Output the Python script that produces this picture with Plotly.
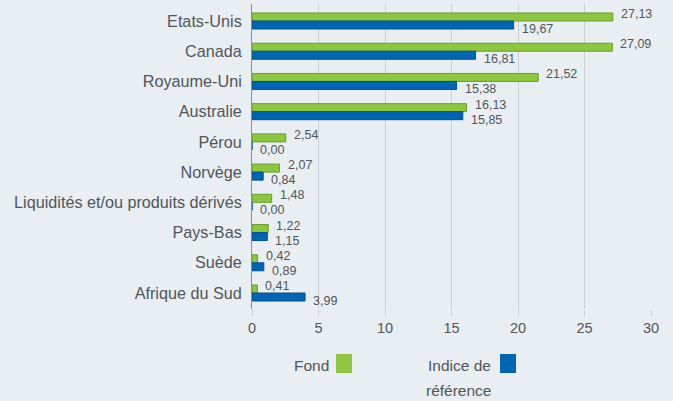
import plotly.graph_objects as go

categories = ["Etats-Unis", "Canada", "Royaume-Uni", "Australie", "Pérou", "Norvège",
              "Liquidités et/ou produits dérivés", "Pays-Bas", "Suède", "Afrique du Sud"]
fond = [27.13, 27.09, 21.52, 16.13, 2.54, 2.07, 1.48, 1.22, 0.42, 0.41]
indice = [19.67, 16.81, 15.38, 15.85, 0.00, 0.84, 0.00, 1.15, 0.89, 3.99]
x_ticks = [0, 5, 10, 15, 20, 25, 30]

GREEN = "#8dc63f"
GREEN_EDGE = "#6b9e2c"
BLUE = "#0066b3"
BLUE_EDGE = "#004f8f"
BG = "#e9eef2"
TXT = "#50565c"
FONT = "Liberation Sans, Arial, sans-serif"

def fmt(v):
    return f"{v:.2f}".replace(".", ",")

fig = go.Figure()
fig.add_trace(go.Bar(y=categories, x=fond, orientation="h", name="Fond",
                     marker=dict(color=GREEN, line=dict(color=GREEN_EDGE, width=1)),
                     hoverinfo="x+y"))
fig.add_trace(go.Bar(y=categories, x=indice, orientation="h", name="Indice de référence",
                     marker=dict(color=BLUE, line=dict(color=BLUE_EDGE, width=1)),
                     hoverinfo="x+y"))

annotations = []
for c, v in zip(categories, fond):
    annotations.append(dict(x=v, y=c, xref="x", yref="y", text=fmt(v), showarrow=False,
                            xanchor="left", yanchor="middle", xshift=6, yshift=7,
                            font=dict(size=12.5, color=TXT, family=FONT)))
for c, v in zip(categories, indice):
    annotations.append(dict(x=v, y=c, xref="x", yref="y", text=fmt(v), showarrow=False,
                            xanchor="left", yanchor="middle", xshift=6, yshift=-8,
                            font=dict(size=12.5, color=TXT, family=FONT)))

W, H = 673, 401
ML, MR, MT, MB = 252, 22, 4, 92
pw = W - ML - MR
ph = H - MT - MB

def px_x(p):
    return (p - ML) / pw

def px_y(p):
    return (H - MB - p) / ph

LEG = dict(size=15.5, color=TXT, family=FONT)
annotations.append(dict(x=px_x(331), y=px_y(365), xref="paper", yref="paper", text="Fond",
                        showarrow=False, xanchor="right", yanchor="middle", font=LEG))
annotations.append(dict(x=px_x(493), y=px_y(365), xref="paper", yref="paper", text="Indice de",
                        showarrow=False, xanchor="right", yanchor="middle", font=LEG))
annotations.append(dict(x=px_x(493), y=px_y(390), xref="paper", yref="paper", text="référence",
                        showarrow=False, xanchor="right", yanchor="middle", font=LEG))

shapes = [
    dict(type="rect", xref="paper", yref="paper", x0=px_x(336), x1=px_x(352),
         y0=px_y(373), y1=px_y(354), fillcolor=GREEN, line=dict(width=0)),
    dict(type="rect", xref="paper", yref="paper", x0=px_x(500), x1=px_x(516),
         y0=px_y(373), y1=px_y(354), fillcolor=BLUE, line=dict(width=0)),
]

fig.update_layout(
    width=W, height=H,
    margin=dict(l=ML, r=MR, t=MT, b=MB),
    paper_bgcolor=BG, plot_bgcolor=BG,
    barmode="group", bargap=0.47, bargroupgap=0.0,
    showlegend=False,
    font=dict(family=FONT, size=15, color=TXT),
    annotations=annotations,
    shapes=shapes,
    xaxis=dict(range=[0, 30], tickvals=x_ticks, showgrid=True, gridcolor="#cbd0d4",
               gridwidth=1, zeroline=False, ticks="outside", ticklen=6, tickcolor="#cbd0d4",
               tickfont=dict(size=14.5, color=TXT, family=FONT), fixedrange=True),
    yaxis=dict(autorange="reversed", showgrid=False, showline=True, linecolor="#8a9096",
               linewidth=1, ticks="", ticklabelstandoff=6,
               tickfont=dict(size=16.2, color=TXT, family=FONT), fixedrange=True),
)

fig.write_html("out.html", config={"displayModeBar": False},
               post_script="document.body.style.margin='0px';document.body.style.padding='0px';"
                           "document.body.style.overflow='hidden';")
